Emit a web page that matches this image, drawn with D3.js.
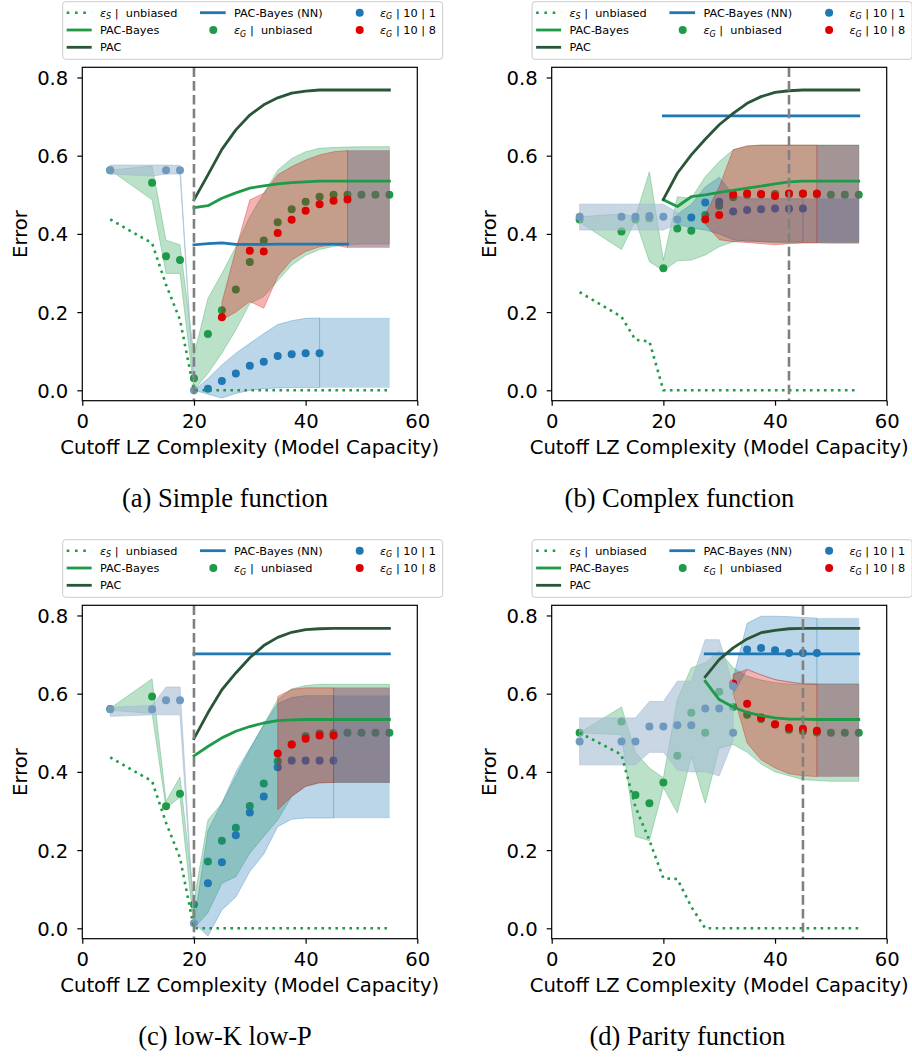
<!DOCTYPE html>
<html>
<head>
<meta charset="utf-8">
<script src="https://cdn.jsdelivr.net/npm/d3@7"></script>
<style>
  html, body { margin: 0; padding: 0; background: #fff; }
  svg { display: block; font-family: "DejaVu Sans", sans-serif; }
  text { white-space: pre; }
</style>
</head>
<body>
<svg id="fig" width="912" height="1059"></svg>
<script>
const _ = null;

// Cutoff LZ complexity values shared by every panel
const cutoffLZ = [5, 12.5, 15, 17.5, 20, 22.5, 25, 27.5, 30, 32.5, 35, 37.5, 40, 42.5, 45, 47.5, 50, 52.5, 55];
const xTicks = [0, 20, 40, 60];
const yTicks = [0, 0.2, 0.4, 0.6, 0.8];
const captions = ["(a) Simple function", "(b) Complex function", "(c) low-K low-P", "(d) Parity function"];

// ---------- (a) Simple function ----------
const simpleEpsS     = [0.437, 0.376, 0.27, 0.18, 0, 0, 0, 0, 0, 0, 0, 0, 0, 0, 0, 0, 0, 0, 0];
const simpleEpsG     = [0.563, 0.531, 0.343, 0.333, 0.031, 0.144, 0.205, 0.258, 0.328, 0.383, 0.430, 0.463, 0.482, 0.495, 0.500, 0.500, 0.500, 0.500, 0.500];
const simpleEpsGHi   = [0.563, 0.574, 0.384, 0.372, 0.09, 0.235, 0.299, 0.367, 0.444, 0.504, 0.563, 0.593, 0.610, 0.619, 0.621, 0.622, 0.623, 0.623, 0.623];
const simpleEpsGLo   = [0.563, 0.487, 0.299, 0.299, 0.0, 0.043, 0.095, 0.154, 0.222, 0.24, 0.28, 0.32, 0.345, 0.36, 0.368, 0.372, 0.374, 0.374, 0.374];
const simpleGrey     = [0.563, _, 0.563, 0.563, 0.0, _, _, _, _, _, _, _, _, _, _, _, _, _, _];
const simpleGreyHi   = [0.576, 0.576, 0.576, 0.575, 0.0, _, _, _, _, _, _, _, _, _, _, _, _, _, _];
const simpleGreyLo   = [0.553, 0.548, 0.553, 0.553, 0.0, _, _, _, _, _, _, _, _, _, _, _, _, _, _];
const simpleNN       = [_, _, _, _, _, 0.004, 0.024, 0.043, 0.063, 0.073, 0.088, 0.092, 0.095, 0.095, _, _, _, _, _];
const simpleNNHi     = [_, _, _, _, 0.0, 0.03, 0.065, 0.095, 0.12, 0.145, 0.168, 0.178, 0.184, 0.185, _, _, _, _, _];
const simpleNNLo     = [_, _, _, _, 0.0, -0.01, -0.02, -0.008, 0.0, 0.004, 0.006, 0.007, 0.007, 0.007, _, _, _, _, _];
const simpleN8       = [_, _, _, _, _, _, 0.187, _, 0.357, 0.355, 0.402, 0.436, 0.459, 0.476, 0.485, 0.488, _, _, _];
const simpleN8Hi     = [_, _, _, _, _, _, 0.225, 0.36, 0.487, 0.504, 0.551, 0.572, 0.589, 0.602, 0.610, 0.613, _, _, _];
const simpleN8Lo     = [_, _, _, _, _, _, 0.18, 0.2, 0.227, 0.210, 0.291, 0.333, 0.355, 0.367, 0.372, 0.365, _, _, _];
const simplePacBayes = [_, _, _, _, 0.467, 0.472, 0.491, 0.505, 0.517, 0.523, 0.528, 0.531, 0.533, 0.535, 0.535, 0.535, 0.535, 0.535, 0.535];
const simplePac      = [_, _, _, _, 0.487, 0.551, 0.616, 0.666, 0.704, 0.730, 0.748, 0.760, 0.765, 0.768, 0.768, 0.768, 0.768, 0.768, 0.768];
const simplePacBayesNN = [_, _, _, _, 0.372, 0.375, 0.377, 0.373, 0.373, 0.373, 0.374, 0.374, 0.374, 0.374, 0.374, 0.374, _, _, _];
const simpleCutoff = 20;

// ---------- (b) Complex function ----------
const complexEpsS     = [0.251, 0.188, 0.129, 0.125, 0, 0, 0, 0, 0, 0, 0, 0, 0, 0, 0, 0, 0, 0, 0];
const complexEpsG     = [0.437, 0.406, 0.437, 0.44, 0.312, 0.414, 0.408, 0.448, 0.472, 0.494, 0.500, 0.501, 0.502, 0.502, 0.502, 0.501, 0.500, 0.500, 0.500];
const complexEpsGHi   = [0.444, 0.451, 0.444, 0.559, 0.333, 0.495, 0.491, 0.546, 0.585, 0.615, 0.625, 0.627, 0.627, 0.627, 0.627, 0.627, 0.627, 0.627, 0.627];
const complexEpsGLo   = [0.43, 0.36, 0.435, 0.329, 0.306, 0.331, 0.333, 0.346, 0.367, 0.380, 0.384, 0.380, 0.377, 0.377, 0.377, 0.377, 0.376, 0.376, 0.376];
const complexGrey     = [0.444, 0.444, 0.444, 0.446, 0.444, 0.437, _, _, _, _, _, _, _, _, _, _, _, _, _];
const complexGreyHi   = [0.476, 0.476, 0.476, 0.476, 0.476, 0.455, _, _, _, _, _, _, _, _, _, _, _, _, _];
const complexGreyLo   = [0.41, 0.41, 0.41, 0.41, 0.41, 0.425, _, _, _, _, _, _, _, _, _, _, _, _, _];
const complexNN       = [_, _, _, _, _, _, 0.442, 0.480, 0.482, 0.457, 0.461, 0.463, 0.465, 0.464, 0.465, _, _, _, _];
const complexNNHi     = [_, _, _, _, _, 0.45, 0.475, 0.52, 0.545, 0.50, 0.49, 0.49, 0.49, 0.49, 0.49, _, _, _, _];
const complexNNLo     = [_, _, _, _, _, 0.425, 0.415, 0.41, 0.40, 0.385, 0.38, 0.38, 0.38, 0.38, 0.38, _, _, _, _];
const complexN8       = [_, _, _, _, _, _, _, 0.437, 0.448, 0.501, 0.503, 0.502, 0.497, 0.503, 0.503, 0.503, _, _, _];
const complexN8Hi     = [_, _, _, _, _, _, _, 0.45, 0.52, 0.615, 0.625, 0.627, 0.627, 0.627, 0.627, 0.627, _, _, _];
const complexN8Lo     = [_, _, _, _, _, _, _, 0.425, 0.385, 0.38, 0.378, 0.375, 0.372, 0.375, 0.377, 0.377, _, _, _];
const complexPacBayes = [_, _, _, _, 0.487, 0.470, 0.495, 0.500, 0.506, 0.511, 0.517, 0.522, 0.528, 0.533, 0.535, 0.535, 0.535, 0.535, 0.535];
const complexPac      = [_, _, _, _, 0.488, 0.555, 0.602, 0.642, 0.679, 0.708, 0.734, 0.751, 0.762, 0.766, 0.768, 0.768, 0.768, 0.768, 0.768];
const complexPacBayesNN = [_, _, _, _, 0.702, 0.702, 0.702, 0.702, 0.702, 0.702, 0.702, 0.702, 0.702, 0.702, 0.702, 0.702, 0.702, 0.702, 0.702];
const complexCutoff = 42.5;

// ---------- (c) low-K low-P ----------
const lowkEpsS     = [0.437, 0.376, 0.27, 0.18, 0, 0, 0, 0, 0, 0, 0, 0, 0, 0, 0, 0, 0, 0, 0];
const lowkEpsG     = [0.561, 0.593, 0.312, 0.344, 0.061, 0.171, 0.224, 0.257, 0.313, 0.370, 0.427, 0.470, 0.491, 0.498, 0.499, 0.5, 0.5, 0.5, 0.5];
const lowkEpsGHi   = [0.563, 0.638, 0.325, 0.387, 0.07, 0.277, 0.320, 0.388, 0.457, 0.521, 0.585, 0.612, 0.621, 0.624, 0.624, 0.624, 0.624, 0.624, 0.624];
const lowkEpsGLo   = [0.558, 0.549, 0.307, 0.335, 0.0, 0.04, 0.115, 0.132, 0.192, 0.235, 0.277, 0.337, 0.363, 0.372, 0.373, 0.373, 0.373, 0.373, 0.373];
const lowkGrey     = [0.56, 0.56, 0.583, 0.583, 0.013, _, _, _, _, _, _, _, _, _, _, _, _, _, _];
const lowkGreyHi   = [0.565, 0.57, 0.617, 0.617, 0.013, _, _, _, _, _, _, _, _, _, _, _, _, _, _];
const lowkGreyLo   = [0.542, 0.546, 0.546, 0.546, 0.013, _, _, _, _, _, _, _, _, _, _, _, _, _, _];
const lowkNN       = [_, _, _, _, _, 0.115, 0.169, 0.238, 0.296, 0.337, 0.412, 0.429, 0.429, 0.429, 0.429, _, _, _, _];
const lowkNNHi     = [_, _, _, _, 0.013, 0.25, 0.32, 0.40, 0.46, 0.52, 0.575, 0.59, 0.595, 0.595, 0.595, _, _, _, _];
const lowkNNLo     = [_, _, _, _, 0.013, -0.02, 0.047, 0.08, 0.145, 0.19, 0.26, 0.279, 0.282, 0.282, 0.282, _, _, _, _];
const lowkN8       = [_, _, _, _, _, _, _, _, _, _, 0.447, 0.470, 0.485, 0.493, 0.493, _, _, _, _];
const lowkN8Hi     = [_, _, _, _, _, _, _, _, _, _, 0.593, 0.611, 0.615, 0.615, 0.615, _, _, _, _];
const lowkN8Lo     = [_, _, _, _, _, _, _, _, _, _, 0.303, 0.337, 0.363, 0.372, 0.373, _, _, _, _];
const lowkPacBayes = [_, _, _, _, 0.441, 0.465, 0.487, 0.504, 0.516, 0.525, 0.531, 0.533, 0.534, 0.534, 0.534, 0.534, 0.534, 0.534, 0.534];
const lowkPac      = [_, _, _, _, 0.485, 0.551, 0.610, 0.653, 0.692, 0.723, 0.744, 0.757, 0.764, 0.766, 0.767, 0.767, 0.767, 0.767, 0.767];
const lowkPacBayesNN = [_, _, _, _, 0.702, 0.702, 0.702, 0.702, 0.702, 0.702, 0.702, 0.702, 0.702, 0.702, 0.702, 0.702, 0.702, 0.702, 0.702];
const lowkCutoff = 20;

// ---------- (d) Parity function ----------
const parityEpsS     = [0.5, 0.444, 0.31, 0.225, 0.128, 0.126, 0.055, 0, 0, 0, 0, 0, 0, 0, 0, 0, 0, 0, 0];
const parityEpsG     = [0.5, 0.529, 0.341, 0.320, 0.373, 0.441, 0.551, 0.5, 0.605, 0.566, 0.546, 0.535, 0.521, 0.508, 0.504, 0.501, 0.5, 0.5, 0.5];
const parityEpsGHi   = [0.5, 0.566, 0.45, 0.41, 0.385, 0.585, 0.666, 0.679, 0.709, 0.666, 0.645, 0.635, 0.628, 0.625, 0.625, 0.625, 0.625, 0.625, 0.625];
const parityEpsGLo   = [0.5, 0.495, 0.235, 0.224, 0.36, 0.295, 0.44, 0.32, 0.46, 0.47, 0.45, 0.42, 0.40, 0.39, 0.38, 0.378, 0.376, 0.376, 0.376];
const parityGrey     = [0.478, 0.478, 0.478, 0.516, 0.516, 0.519, 0.519, 0.562, 0.562, 0.619, _, _, _, _, _, _, _, _, _];
const parityGreyAlt  = [_, _, _, _, _, _, _, _, _, 0.5, _, _, _, _, _, _, _, _, _];
const parityGreyHi   = [0.538, 0.538, 0.538, 0.58, 0.58, 0.632, 0.632, 0.738, 0.738, 0.62, _, _, _, _, _, _, _, _, _];
const parityGreyLo   = [0.418, 0.418, 0.418, 0.45, 0.45, 0.405, 0.40, 0.40, 0.39, 0.48, _, _, _, _, _, _, _, _, _];
const parityNN       = [_, _, _, _, _, _, _, _, _, _, 0.713, 0.717, 0.711, 0.704, 0.704, 0.704, _, _, _];
const parityNNHi     = [_, _, _, _, _, _, _, _, _, 0.64, 0.78, 0.798, 0.798, 0.797, 0.795, 0.793, _, _, _];
const parityNNLo     = [_, _, _, _, _, _, _, _, _, 0.60, 0.662, 0.648, 0.636, 0.63, 0.626, 0.624, _, _, _];
const parityN8       = [_, _, _, _, _, _, _, _, _, 0.626, 0.574, 0.539, 0.522, 0.513, 0.510, 0.505, _, _, _];
const parityN8Hi     = [_, _, _, _, _, _, _, _, _, 0.65, 0.662, 0.648, 0.636, 0.63, 0.625, 0.624, _, _, _];
const parityN8Lo     = [_, _, _, _, _, _, _, _, _, 0.60, 0.474, 0.431, 0.41, 0.395, 0.39, 0.388, _, _, _];
const parityPacBayes = [_, _, _, _, _, _, _, 0.632, 0.585, 0.566, 0.552, 0.544, 0.538, 0.535, 0.535, 0.534, 0.534, 0.534, 0.534];
const parityPac      = [_, _, _, _, _, _, _, 0.643, 0.687, 0.717, 0.740, 0.756, 0.762, 0.766, 0.767, 0.767, 0.767, 0.767, 0.767];
const parityPacBayesNN = [_, _, _, _, _, _, _, 0.702, 0.702, 0.702, 0.702, 0.702, 0.702, 0.702, 0.702, 0.702, 0.702, 0.702, 0.702];
const parityCutoff = 45;

// Table of panels assembled from the arrays above
const panels = [
  { caption: captions[0], epsS: simpleEpsS, epsG: simpleEpsG, gHi: simpleEpsGHi, gLo: simpleEpsGLo,
    grey: simpleGrey, greyAlt: null, greyHi: simpleGreyHi, greyLo: simpleGreyLo,
    nn: simpleNN, nnHi: simpleNNHi, nnLo: simpleNNLo, n8: simpleN8, n8Hi: simpleN8Hi, n8Lo: simpleN8Lo,
    pacBayes: simplePacBayes, pac: simplePac, pacBayesNN: simplePacBayesNN, cutoff: simpleCutoff },
  { caption: captions[1], epsS: complexEpsS, epsG: complexEpsG, gHi: complexEpsGHi, gLo: complexEpsGLo,
    grey: complexGrey, greyAlt: null, greyHi: complexGreyHi, greyLo: complexGreyLo,
    nn: complexNN, nnHi: complexNNHi, nnLo: complexNNLo, n8: complexN8, n8Hi: complexN8Hi, n8Lo: complexN8Lo,
    pacBayes: complexPacBayes, pac: complexPac, pacBayesNN: complexPacBayesNN, cutoff: complexCutoff },
  { caption: captions[2], epsS: lowkEpsS, epsG: lowkEpsG, gHi: lowkEpsGHi, gLo: lowkEpsGLo,
    grey: lowkGrey, greyAlt: null, greyHi: lowkGreyHi, greyLo: lowkGreyLo,
    nn: lowkNN, nnHi: lowkNNHi, nnLo: lowkNNLo, n8: lowkN8, n8Hi: lowkN8Hi, n8Lo: lowkN8Lo,
    pacBayes: lowkPacBayes, pac: lowkPac, pacBayesNN: lowkPacBayesNN, cutoff: lowkCutoff },
  { caption: captions[3], epsS: parityEpsS, epsG: parityEpsG, gHi: parityEpsGHi, gLo: parityEpsGLo,
    grey: parityGrey, greyAlt: parityGreyAlt, greyHi: parityGreyHi, greyLo: parityGreyLo,
    nn: parityNN, nnHi: parityNNHi, nnLo: parityNNLo, n8: parityN8, n8Hi: parityN8Hi, n8Lo: parityN8Lo,
    pacBayes: parityPacBayes, pac: parityPac, pacBayesNN: parityPacBayesNN, cutoff: parityCutoff }
];

// ---------- layout & style ----------
const col = {
  green: "#1e9a48", dark: "#2a5638", blue: "#1f77b4", red: "#dc0000",
  grey: "rgb(165,188,211)", greyPt: "#7099be", ext: "rgb(86,128,177)", cut: "#808080"
};
const frame = { left: 82.3, right: 417.3, top: 67.3, bottom: 400.7 };
const offsets = [[0, 0], [469.4, 0], [0, 538], [469.4, 538]];
const captionX = [225, 210, 225, 218];
const tickFont = 19.6;

const x = d3.scaleLinear().domain([0, 60]).range([frame.left, frame.right]);
const y = d3.scaleLinear().domain([-0.0266, 0.826]).range([frame.bottom, frame.top]);
const svg = d3.select("#fig");

const has = v => v !== null && v !== undefined;

function drawBand(g, lo, hi, color, alpha) {
  const area = d3.area()
    .defined((d, i) => has(lo[i]) && has(hi[i]))
    .x(d => x(d))
    .y0((d, i) => y(lo[i]))
    .y1((d, i) => y(hi[i]));
  g.append("path").attr("d", area(cutoffLZ))
    .attr("fill", color).attr("fill-opacity", alpha)
    .attr("stroke", color).attr("stroke-opacity", alpha).attr("stroke-width", 1);
}

// band continued flat from its last value out to the end of the x range
function drawExt(g, lo, hi, color, alpha) {
  const idx = d3.range(cutoffLZ.length).filter(i => has(lo[i]) && has(hi[i]));
  const k = idx[idx.length - 1];
  const xEnd = cutoffLZ[cutoffLZ.length - 1];
  if (cutoffLZ[k] >= xEnd) return;
  const pts = [[cutoffLZ[k], lo[k], hi[k]], [xEnd, lo[k], hi[k]]];
  const area = d3.area().x(d => x(d[0])).y0(d => y(d[1])).y1(d => y(d[2]));
  g.append("path").attr("d", area(pts))
    .attr("fill", color).attr("fill-opacity", alpha)
    .attr("stroke", color).attr("stroke-opacity", alpha * 0.4).attr("stroke-width", 0.8);
}

function drawPoints(g, vals, color) {
  const idx = d3.range(cutoffLZ.length).filter(i => has(vals[i]));
  g.append("g").selectAll("circle").data(idx).join("circle")
    .attr("cx", i => x(cutoffLZ[i])).attr("cy", i => y(vals[i])).attr("r", 4)
    .attr("fill", color);
}

function drawLine(g, vals, color, width, dash) {
  const line = d3.line().defined((d, i) => has(vals[i])).x(d => x(d)).y((d, i) => y(vals[i]));
  const p = g.append("path").attr("d", line(cutoffLZ))
    .attr("fill", "none").attr("stroke", color).attr("stroke-width", width)
    .attr("stroke-linejoin", "round");
  if (dash) p.attr("stroke-dasharray", dash).attr("stroke-linecap", "butt");
  else p.attr("stroke-linecap", "square");
}

function mathText(g, tx, ty, sub, rest) {
  const t = g.append("text").attr("x", tx).attr("y", ty).attr("font-size", 11.3).attr("fill", "#000");
  t.append("tspan").attr("font-style", "italic").text("ε");
  t.append("tspan").attr("font-style", "italic").attr("font-size", 8).attr("dy", 2.6).text(sub);
  t.append("tspan").attr("dy", -2.6).text(rest);
}

function drawLegend(g) {
  g.append("rect").attr("x", 62.7).attr("y", 1.7).attr("width", 380).attr("height", 57.6)
    .attr("rx", 3).attr("fill", "#fff").attr("fill-opacity", 0.85)
    .attr("stroke", "#cccccc").attr("stroke-width", 1);
  const rows = [12.7, 30, 47.3];
  const h1 = [66.7, 91.7], h2 = [200, 225.7];
  // column 1
  g.append("line").attr("x1", h1[0]).attr("x2", h1[1]).attr("y1", rows[0]).attr("y2", rows[0])
    .attr("stroke", col.green).attr("stroke-width", 2.6).attr("stroke-dasharray", "2.6 5.7");
  mathText(g, 100, rows[0] + 4, "S", " |  unbiased");
  g.append("line").attr("x1", h1[0]).attr("x2", h1[1]).attr("y1", rows[1]).attr("y2", rows[1])
    .attr("stroke", col.green).attr("stroke-width", 2.8);
  g.append("text").attr("x", 100).attr("y", rows[1] + 4).attr("font-size", 11.3).text("PAC-Bayes");
  g.append("line").attr("x1", h1[0]).attr("x2", h1[1]).attr("y1", rows[2]).attr("y2", rows[2])
    .attr("stroke", col.dark).attr("stroke-width", 2.8);
  g.append("text").attr("x", 100).attr("y", rows[2] + 4).attr("font-size", 11.3).text("PAC");
  // column 2
  g.append("line").attr("x1", h2[0]).attr("x2", h2[1]).attr("y1", rows[0]).attr("y2", rows[0])
    .attr("stroke", col.blue).attr("stroke-width", 2.8);
  g.append("text").attr("x", 234).attr("y", rows[0] + 4).attr("font-size", 11.3).text("PAC-Bayes (NN)");
  g.append("circle").attr("cx", 213.3).attr("cy", rows[1]).attr("r", 4).attr("fill", col.green);
  mathText(g, 234, rows[1] + 4, "G", " |  unbiased");
  // column 3
  g.append("circle").attr("cx", 359.7).attr("cy", rows[0]).attr("r", 4).attr("fill", col.blue);
  mathText(g, 380, rows[0] + 4, "G", " | 10 | 1");
  g.append("circle").attr("cx", 359.7).attr("cy", rows[1]).attr("r", 4).attr("fill", col.red);
  mathText(g, 380, rows[1] + 4, "G", " | 10 | 8");
}

panels.forEach((p, k) => {
  const g = svg.append("g").attr("transform", `translate(${offsets[k][0]},${offsets[k][1]})`);
  const clipId = "plotclip" + k;
  g.append("clipPath").attr("id", clipId).append("rect")
    .attr("x", frame.left).attr("y", frame.top)
    .attr("width", frame.right - frame.left).attr("height", frame.bottom - frame.top);
  const plot = g.append("g").attr("clip-path", `url(#${clipId})`);

  // ε_G unbiased with its spread
  drawBand(plot, p.gLo, p.gHi, col.green, 0.3);
  drawPoints(plot, p.epsG, col.green);
  // ε_G | 10 | 1
  drawBand(plot, p.nnLo, p.nnHi, col.blue, 0.3);
  drawExt(plot, p.nnLo, p.nnHi, col.blue, 0.3);
  drawPoints(plot, p.nn, col.blue);
  // ε_G | 10 | 8
  drawBand(plot, p.n8Lo, p.n8Hi, col.red, 0.3);
  drawExt(plot, p.n8Lo, p.n8Hi, col.red, 0.3);
  drawExt(plot, p.n8Lo, p.n8Hi, col.ext, 0.3);
  drawPoints(plot, p.n8, col.red);
  // ε_G | 10 | 1 in the greyed regime
  drawBand(plot, p.greyLo, p.greyHi, col.grey, 0.6);
  drawPoints(plot, p.grey, col.greyPt);
  if (p.greyAlt) drawPoints(plot, p.greyAlt, col.greyPt);

  // bounds and training error
  drawLine(plot, p.pacBayesNN, col.blue, 2.8);
  drawLine(plot, p.pacBayes, col.green, 2.8);
  drawLine(plot, p.pac, col.dark, 2.8);
  drawLine(plot, p.epsS, col.green, 2.6, "2.6 4.4");

  // cutoff marker
  plot.append("line")
    .attr("x1", x(p.cutoff)).attr("x2", x(p.cutoff))
    .attr("y1", frame.top).attr("y2", frame.bottom)
    .attr("stroke", col.cut).attr("stroke-width", 2.6).attr("stroke-dasharray", "9.6 4.2");

  // axes
  const ax = g.append("g").attr("transform", `translate(0,${frame.bottom})`)
    .call(d3.axisBottom(x).tickValues(xTicks).tickFormat(d3.format("d")).tickSize(5).tickSizeOuter(0));
  ax.select(".domain").remove();
  ax.selectAll(".tick line").attr("stroke", "#000").attr("stroke-width", 1.2);
  ax.selectAll(".tick text").attr("dy", null).attr("y", 27).attr("font-size", tickFont)
    .attr("font-family", "DejaVu Sans").attr("fill", "#000");

  const ay = g.append("g").attr("transform", `translate(${frame.left},0)`)
    .call(d3.axisLeft(y).tickValues(yTicks).tickFormat(d3.format(".1f")).tickSize(5).tickSizeOuter(0));
  ay.select(".domain").remove();
  ay.selectAll(".tick line").attr("stroke", "#000").attr("stroke-width", 1.2);
  ay.selectAll(".tick text").attr("x", -14).attr("dy", "0.36em").attr("font-size", tickFont)
    .attr("font-family", "DejaVu Sans").attr("fill", "#000");

  g.append("rect").attr("x", frame.left).attr("y", frame.top)
    .attr("width", frame.right - frame.left).attr("height", frame.bottom - frame.top)
    .attr("fill", "none").attr("stroke", "#000").attr("stroke-width", 1.2);

  g.append("text").attr("x", (frame.left + frame.right) / 2).attr("y", 454)
    .attr("text-anchor", "middle").attr("font-size", tickFont)
    .text("Cutoff LZ Complexity (Model Capacity)");
  g.append("text").attr("transform", `translate(26.5,${(frame.top + frame.bottom) / 2}) rotate(-90)`)
    .attr("text-anchor", "middle").attr("font-size", tickFont).text("Error");

  drawLegend(g);

  g.append("text").attr("x", captionX[k]).attr("y", 507)
    .attr("text-anchor", "middle").attr("font-family", "Liberation Serif, serif")
    .attr("font-size", 26.5).text(p.caption);
});
</script>
</body>
</html>
